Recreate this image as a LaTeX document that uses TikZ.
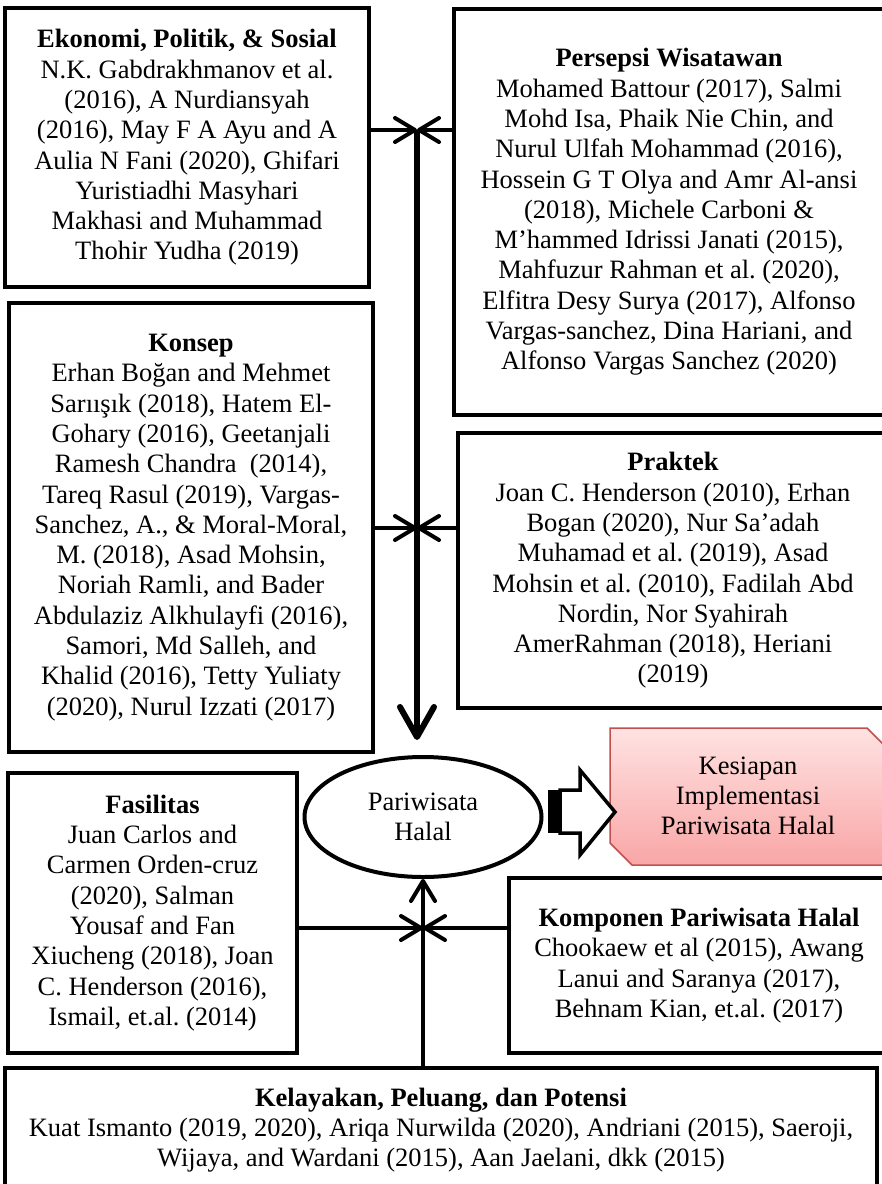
\documentclass[tikz,border=0pt]{standalone}
\usepackage{fontspec}
\setmainfont{Liberation Serif}
\usetikzlibrary{arrows.meta,shapes.geometric,calc}
\frenchspacing
\newcommand\boxfont{\fontsize{26.5}{30.3}\selectfont}
\definecolor{pinktop}{RGB}{255,226,226}
\definecolor{pinkbot}{RGB}{249,166,166}
\definecolor{pinkline}{RGB}{192,80,77}
\tikzset{
  refbox/.style={draw, line width=4pt, align=center, inner sep=0pt, font=\boxfont},
  feed/.style={line width=4pt, -{Straight Barb[length=20pt, width=24pt, round]}},
  trunk/.style={line width=6pt, -{Straight Barb[length=30pt, width=34pt, round]}}
}
\begin{document}
\begin{tikzpicture}[x=1pt,y=-1pt]
\useasboundingbox (0,0) rectangle (882,1184);
\clip (0,0) rectangle (882,1184);
% sumber-sumber di kiri
\node[refbox, minimum width=364pt, minimum height=279pt] (ekonomi) at (187,147.5)
  {\textbf{Ekonomi, Politik, \& Sosial}\\
   N.K. Gabdrakhmanov et al.\\
   (2016), A Nurdiansyah\\
   (2016), May F A Ayu and A\\
   Aulia N Fani (2020), Ghifari\\
   Yuristiadhi Masyhari\\
   Makhasi and Muhammad\\
   Thohir Yudha (2019)};
\node[refbox, minimum width=364pt, minimum height=449pt] (konsep) at (191,527.5)
  {\textbf{Konsep}\\
   Erhan Boğan and Mehmet\\
   Sarıışık (2018), Hatem El-\\
   Gohary (2016), Geetanjali\\
   Ramesh Chandra \ (2014),\\
   Tareq Rasul (2019), Vargas-\\
   Sanchez, A., \& Moral-Moral,\\
   M. (2018), Asad Mohsin,\\
   Noriah Ramli, and Bader\\
   Abdulaziz Alkhulayfi (2016),\\
   Samori, Md Salleh, and\\
   Khalid (2016), Tetty Yuliaty\\
   (2020), Nurul Izzati (2017)};
\node[refbox, minimum width=289pt, minimum height=280pt] (fasilitas) at (152.5,913)
  {\textbf{Fasilitas}\\
   Juan Carlos and\\
   Carmen Orden-cruz\\
   (2020), Salman\\
   Yousaf and Fan\\
   Xiucheng (2018), Joan\\
   C. Henderson (2016),\\
   Ismail, et.al. (2014)};
% sumber-sumber di kanan
\node[refbox, minimum width=430pt, minimum height=406pt] (persepsi) at (669,212)
  {\textbf{Persepsi Wisatawan}\\
   Mohamed Battour (2017), Salmi\\
   Mohd Isa, Phaik Nie Chin, and\\
   Nurul Ulfah Mohammad (2016),\\
   Hossein G T Olya and Amr Al-ansi\\
   (2018), Michele Carboni \&\\
   M’hammed Idrissi Janati (2015),\\
   Mahfuzur Rahman et al. (2020),\\
   Elfitra Desy Surya (2017), Alfonso\\
   Vargas-sanchez, Dina Hariani, and\\
   Alfonso Vargas Sanchez (2020)};
\node[refbox, minimum width=430pt, minimum height=275pt] (praktek) at (673,570.5)
  {\textbf{Praktek}\\
   Joan C. Henderson (2010), Erhan\\
   Bogan (2020), Nur Sa’adah\\
   Muhamad et al. (2019), Asad\\
   Mohsin et al. (2010), Fadilah Abd\\
   Nordin, Nor Syahirah\\
   AmerRahman (2018), Heriani\\
   (2019)};
\node[refbox, minimum width=380pt, minimum height=175pt] (komponen) at (699,965.5)
  {\textbf{Komponen Pariwisata Halal}\\
   Chookaew et al (2015), Awang\\
   Lanui and Saranya (2017),\\
   Behnam Kian, et.al. (2017)};
\node[refbox, minimum width=872pt, minimum height=124pt] (kelayakan) at (441,1130)
  {\textbf{Kelayakan, Peluang, dan Potensi}\\
   Kuat Ismanto (2019, 2020), Ariqa Nurwilda (2020), Andriani (2015), Saeroji,\\
   Wijaya, and Wardani (2015), Aan Jaelani, dkk (2015)};
% pusat
\node[draw, ellipse, line width=4pt, minimum width=237pt, minimum height=120pt,
  inner sep=0pt, align=center, font=\boxfont] (pariwisata) at (423,817)
  {Pariwisata\\Halal};
\path[draw=pinkline, line width=1.5pt, top color=pinktop, bottom color=pinkbot]
  (610,728) -- (867,728) -- (890,751) -- (890,865) -- (632,865) -- (610,843) -- cycle;
\node[align=center, font=\boxfont] (kesiapan) at (748,796)
  {Kesiapan\\Implementasi\\Pariwisata Halal};
\fill (548,790) rectangle (560,833);
\draw[line width=3.5pt, fill=white, line join=miter]
  (560,790) -- (580,790) -- (580,770) -- (615,812) -- (580,855) -- (580,833) -- (560,833) -- cycle;
% titik temu
\coordinate (jtop) at (417,130);
\coordinate (jkonsep) at (417,528);
\coordinate (jbot) at (423,928);
\draw[trunk, shorten >=15pt] (jtop) -- (pariwisata.north -| jtop);
\draw[feed] (ekonomi.east |- jtop) -- (jtop);
\draw[feed] (persepsi.west |- jtop) -- (jtop);
\draw[feed] (konsep.east |- jkonsep) -- (jkonsep);
\draw[feed] (praktek.west |- jkonsep) -- (jkonsep);
\draw[feed] (fasilitas.east |- jbot) -- (jbot);
\draw[feed] (komponen.west |- jbot) -- (jbot);
\draw[feed] (kelayakan.north -| jbot) -- (pariwisata.south);
\end{tikzpicture}
\end{document}
